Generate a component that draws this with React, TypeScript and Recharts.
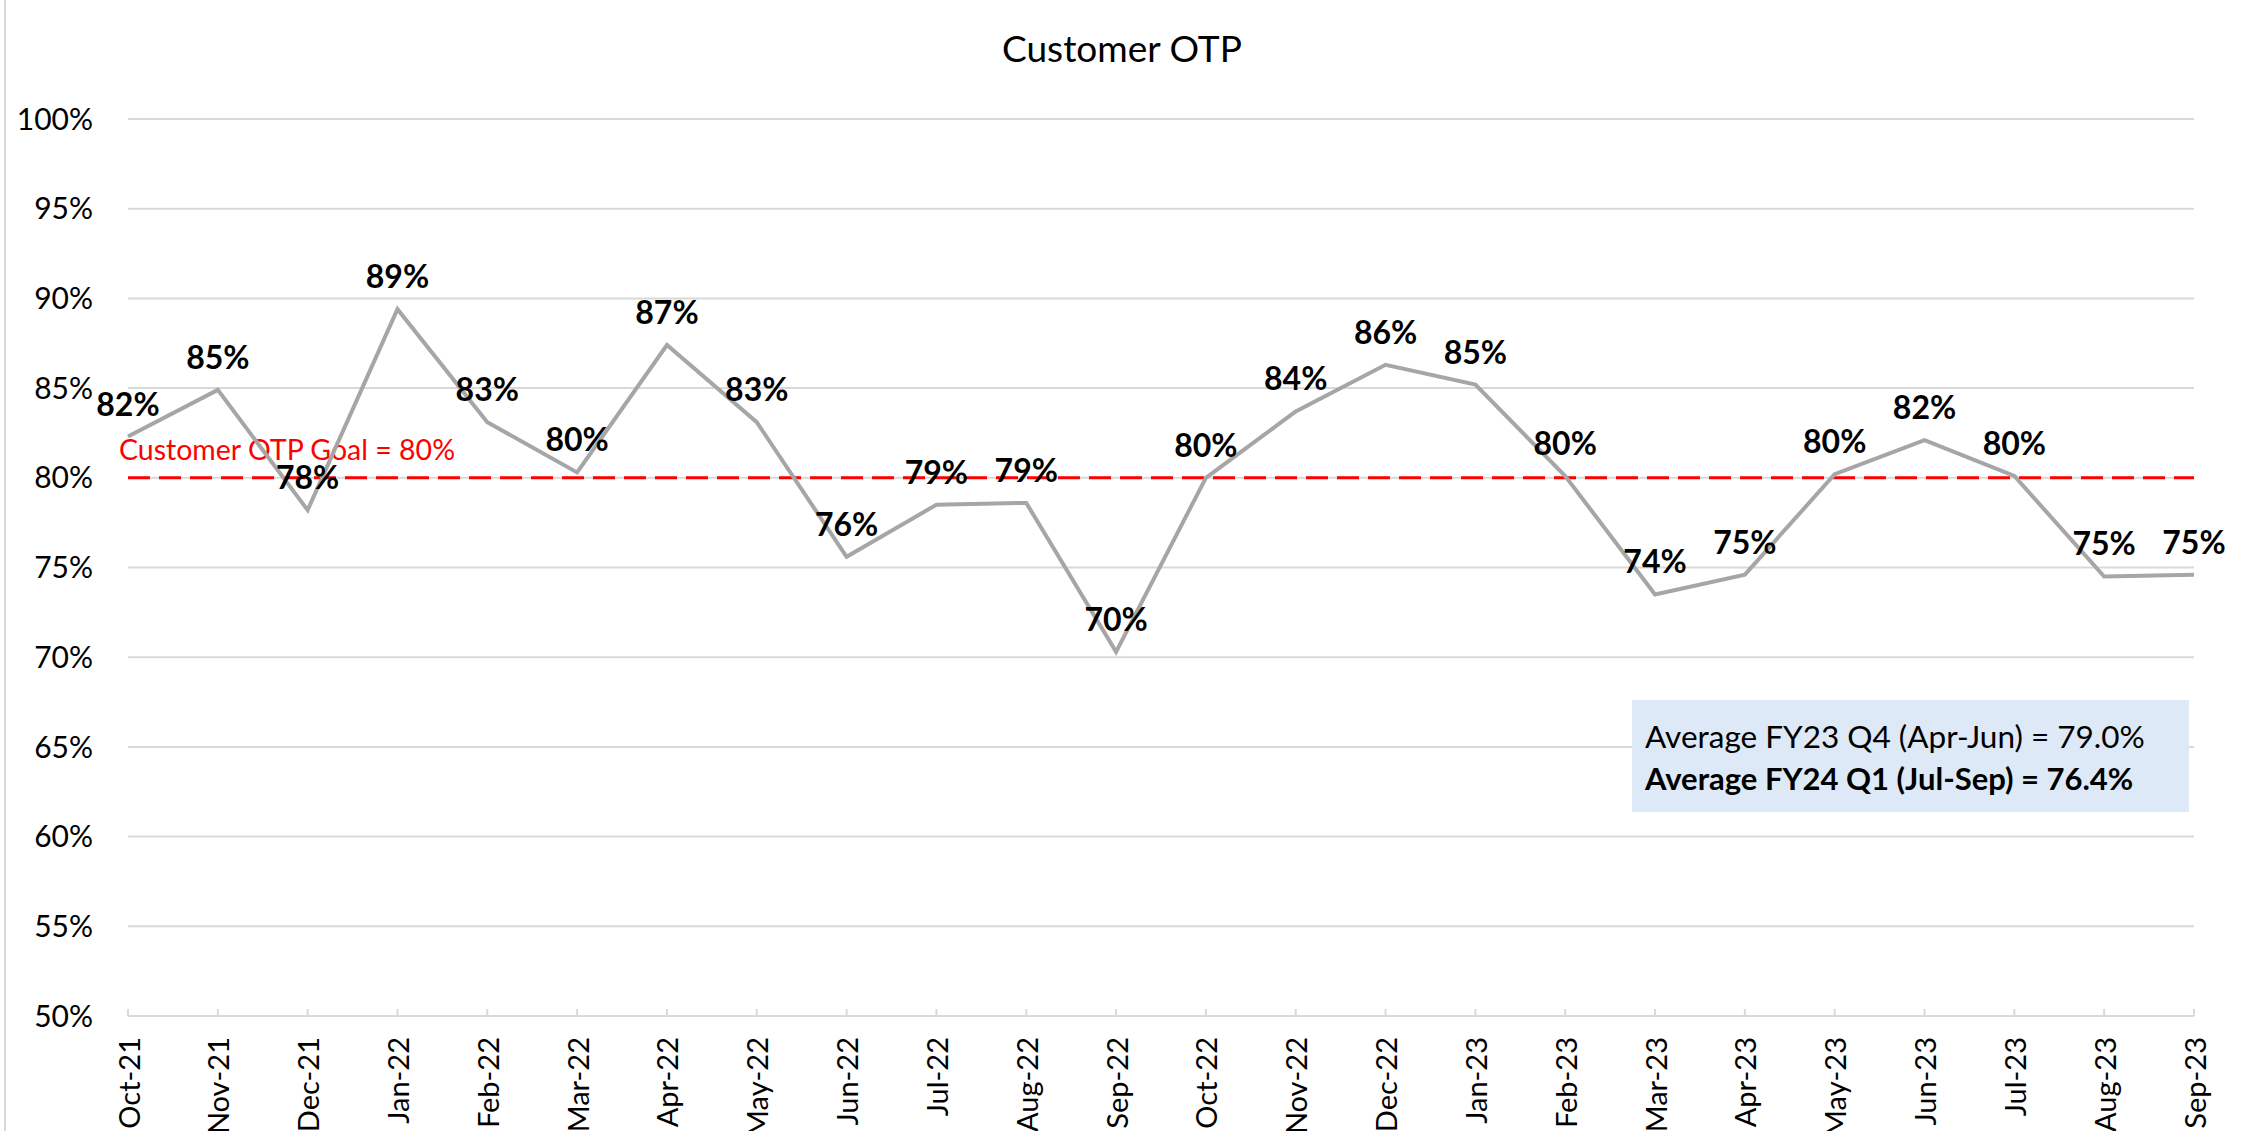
import React from 'react'
import { CartesianGrid, LabelList, Line, LineChart, ReferenceLine, XAxis, YAxis } from 'recharts'

const months = [
  'Oct-21', 'Nov-21', 'Dec-21', 'Jan-22', 'Feb-22', 'Mar-22', 'Apr-22', 'May-22',
  'Jun-22', 'Jul-22', 'Aug-22', 'Sep-22', 'Oct-22', 'Nov-22', 'Dec-22', 'Jan-23',
  'Feb-23', 'Mar-23', 'Apr-23', 'May-23', 'Jun-23', 'Jul-23', 'Aug-23', 'Sep-23',
]
const otp = [
  82.3, 84.9, 78.2, 89.4, 83.1, 80.3, 87.4, 83.1,
  75.6, 78.5, 78.6, 70.3, 80.0, 83.7, 86.3, 85.2,
  80.1, 73.5, 74.6, 80.2, 82.1, 80.1, 74.5, 74.6,
]
const yTicks = [50, 55, 60, 65, 70, 75, 80, 85, 90, 95, 100]
const goal = 80
const goalText = 'Customer OTP Goal = 80%'
const title = 'Customer OTP'
const avgLines = ['Average FY23 Q4 (Apr-Jun) = 79.0%', 'Average FY24 Q1 (Jul-Sep) = 76.4%']

const data = months.map((m, i) => ({ month: m, value: otp[i] }))

const FONT = 'Lato, "Open Sans", sans-serif'

const XTick = ({ x, y, payload }: any) => (
  <text
    x={x}
    y={y}
    transform={`rotate(-90 ${x} ${y})`}
    textAnchor="end"
    dominantBaseline="central"
    fontFamily={FONT}
    fontSize={29}
    fill="#000"
  >
    {payload.value}
  </text>
)

const GoalLabel = ({ viewBox }: any) => (
  <text x={viewBox.x - 9} y={viewBox.y - 18} fill="#ff0000" fontFamily={FONT} fontSize={28.5}>
    {goalText}
  </text>
)

export default function App() {
  return (
    <div style={{ position: 'absolute', left: 0, top: 0, width: 2252, height: 1131, background: '#fff' }}>
      <LineChart
        width={2252}
        height={1131}
        data={data}
        margin={{ top: 119, right: 58, bottom: 0, left: 0 }}
      >
        <CartesianGrid vertical={false} stroke="#d9d9d9" strokeWidth={2} />
        <XAxis
          dataKey="month"
          height={115}
          interval={0}
          tick={<XTick />}
          tickSize={-7}
          tickMargin={28}
          axisLine={{ stroke: '#d9d9d9', strokeWidth: 2 }}
          tickLine={{ stroke: '#d9d9d9', strokeWidth: 2 }}
        />
        <YAxis
          width={128}
          domain={[50, 100]}
          ticks={yTicks}
          interval={0}
          tickFormatter={(v: number) => `${v}%`}
          tick={{ fontFamily: FONT, fontSize: 30, fill: '#000' }}
          tickSize={0}
          tickMargin={35}
          axisLine={false}
          tickLine={false}
        />
        <ReferenceLine
          y={goal}
          stroke="#ff0000"
          strokeWidth={3}
          strokeDasharray="22 9"
          label={<GoalLabel />}
        />
        <Line
          dataKey="value"
          stroke="#a6a6a6"
          strokeWidth={4}
          dot={false}
          isAnimationActive={false}
        >
          <LabelList
            dataKey="value"
            position="top"
            offset={21}
            formatter={(v: any) => `${Math.round(Number(v))}%`}
            style={{ fontFamily: FONT, fontSize: 32, fontWeight: 700, fill: '#000' }}
          />
        </Line>
      </LineChart>
      <svg
        width={2252}
        height={1131}
        style={{ position: 'absolute', left: 0, top: 0, pointerEvents: 'none' }}
      >
        <line x1={5} y1={0} x2={5} y2={1131} stroke="#d9d9d9" strokeWidth={2} />
        <text x={1122} y={62} textAnchor="middle" fontFamily={FONT} fontSize={37} fill="#000">
          {title}
        </text>
        <rect x={1632} y={700} width={557} height={112} fill="#dde9f6" />
        <text x={1645} y={748} fontFamily={FONT} fontSize={31.5} fill="#000">
          {avgLines[0]}
        </text>
        <text x={1645} y={790} fontFamily={FONT} fontSize={31} fontWeight={700} fill="#000">
          {avgLines[1]}
        </text>
      </svg>
    </div>
  )
}
